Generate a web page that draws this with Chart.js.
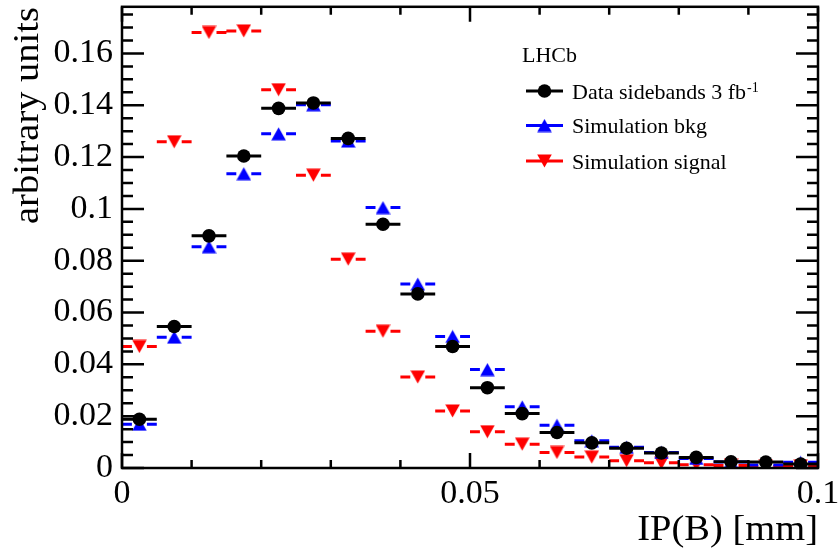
<!DOCTYPE html>
<html lang="en">
<head>
<meta charset="UTF-8">
<title>IP(B)</title>
<script src="https://cdn.jsdelivr.net/npm/chart.js@4.4.0/dist/chart.umd.min.js"></script>
<style>
  html, body { margin: 0; padding: 0; background: #fff; }
</style>
</head>
<body>
<canvas id="c" width="840" height="556"></canvas>
<script>
// IP(B) bins, 0.005 mm wide
const binCenters = [0.0025, 0.0075, 0.0125, 0.0175, 0.0225, 0.0275, 0.0325, 0.0375, 0.0425, 0.0475,
                    0.0525, 0.0575, 0.0625, 0.0675, 0.0725, 0.0775, 0.0825, 0.0875, 0.0925, 0.0975];
const binHalfWidth = 0.0025;

const dataSidebands = [0.0188, 0.0546, 0.0896, 0.1204, 0.1388, 0.1409, 0.1272, 0.0941, 0.0672, 0.0469,
                       0.0310, 0.0210, 0.0137, 0.0097, 0.0076, 0.0058, 0.0041, 0.0024, 0.0023, 0.0015];
const simBkg = [0.0169, 0.0505, 0.0854, 0.1136, 0.1290, 0.1402, 0.1262, 0.1005, 0.0710, 0.0508,
                0.0380, 0.0236, 0.0165, 0.0105, 0.0080, 0.0060, 0.0037, 0.0023, 0.0012, 0.0022];
const simSignal = [0.0469, 0.1259, 0.1681, 0.1687, 0.1460, 0.1130, 0.0806, 0.0528, 0.0351, 0.0220,
                   0.0140, 0.0092, 0.0060, 0.0042, 0.0028, 0.0020, 0.0013, 0.0010, 0.0006, 0.0008];

const xLabelValues = [0, 0.05, 0.1];
const yTitle = 'arbitrary units';
const xTitle = 'IP(B) [mm]';
const legendHeader = 'LHCb';

const FONT = "'Liberation Serif', 'DejaVu Serif', serif";

// ── Marker images (triangles centred on their bounding box) ─────────────────
function triangle(color, up) {
  const c = document.createElement('canvas');
  c.width = 15; c.height = 14;
  const g = c.getContext('2d');
  g.fillStyle = color;
  g.beginPath();
  if (up) { g.moveTo(7.5, 0.5); g.lineTo(14.8, 13.5); g.lineTo(0.2, 13.5); }
  else    { g.moveTo(7.5, 13.5); g.lineTo(14.8, 0.5); g.lineTo(0.2, 0.5); }
  g.closePath();
  g.fill();
  return c;
}
const triUp = triangle('#0000ff', true);
const triDown = triangle('#ff0000', false);

function points(values) {
  return values.map((v, i) => ({ x: binCenters[i], y: v }));
}

const series = [
  { label: 'Data sidebands 3 fb', sup: '-1', data: points(dataSidebands), color: '#000000', style: 'circle', gap: 6 },
  { label: 'Simulation bkg', data: points(simBkg), color: '#0000ff', style: triUp, gap: 7.5 },
  { label: 'Simulation signal', data: points(simSignal), color: '#ff0000', style: triDown, gap: 7.5 },
];

// text stretched along its direction to the wider ROOT Times glyphs
function wideText(ctx, text, x, y, stretch) {
  ctx.save();
  ctx.translate(x, y);
  ctx.scale(stretch, 1);
  ctx.fillText(text, 0, 0);
  ctx.restore();
}

// ── Horizontal bin-width bars, drawn under each dataset's markers ───────────
const binBars = {
  id: 'binBars',
  beforeDatasetDraw(chart, args) {
    const ds = chart.data.datasets[args.index];
    const { ctx, scales: { x, y } } = chart;
    ctx.save();
    ctx.strokeStyle = ds.borderColor;
    ctx.lineWidth = 3;
    ctx.beginPath();
    ds.data.forEach(p => {
      const xl = x.getPixelForValue(p.x - binHalfWidth);
      const xr = x.getPixelForValue(p.x + binHalfWidth);
      const xc = x.getPixelForValue(p.x);
      const py = y.getPixelForValue(p.y);
      ctx.moveTo(xl, py); ctx.lineTo(xc - ds.gap, py);
      ctx.moveTo(xc + ds.gap, py); ctx.lineTo(xr, py);
    });
    ctx.stroke();
    ctx.restore();
  }
};

// ── Frame with inward ticks, axis titles and legend ─────────────────────────
const decorations = {
  id: 'decorations',
  afterDraw(chart) {
    const { ctx, chartArea: a, scales: { x, y } } = chart;
    ctx.save();
    ctx.strokeStyle = '#000';
    ctx.lineWidth = 2.5;
    ctx.strokeRect(a.left, a.top, a.right - a.left, a.bottom - a.top);

    ctx.beginPath();
    for (let i = 0; i <= 10; i++) {
      const px = x.getPixelForValue(i * 0.01);
      const len = i % 5 === 0 ? 15 : 8;
      ctx.moveTo(px, a.bottom); ctx.lineTo(px, a.bottom - len);
      ctx.moveTo(px, a.top); ctx.lineTo(px, a.top + len);
    }
    for (let i = 0; i * 0.005 <= y.max + 1e-9; i++) {
      const py = y.getPixelForValue(i * 0.005);
      const len = i % 4 === 0 ? 22 : 11;
      ctx.moveTo(a.left, py); ctx.lineTo(a.left + len, py);
      ctx.moveTo(a.right, py); ctx.lineTo(a.right - len, py);
    }
    ctx.stroke();

    // axis titles
    ctx.fillStyle = '#000';
    ctx.font = `35px ${FONT}`;
    ctx.textBaseline = 'alphabetic';
    ctx.textAlign = 'right';
    wideText(ctx, xTitle, a.right, 540, 1.1);
    ctx.save();
    ctx.translate(38, 7);
    ctx.rotate(-Math.PI / 2);
    wideText(ctx, yTitle, 0, 0, 1.1);
    ctx.restore();

    // legend
    ctx.textAlign = 'left';
    ctx.font = `22px ${FONT}`;
    ctx.fillText(legendHeader, 522, 62);
    const rowY = [91, 125.5, 161];
    chart.data.datasets.forEach((ds, i) => {
      const cy = rowY[i];
      ctx.strokeStyle = ds.borderColor;
      ctx.lineWidth = 3;
      ctx.beginPath();
      ctx.moveTo(526, cy); ctx.lineTo(563, cy);
      ctx.stroke();
      if (ds.pointStyle === 'circle') {
        ctx.fillStyle = ds.backgroundColor;
        ctx.beginPath();
        ctx.arc(544.5, cy, ds.pointRadius, 0, Math.PI * 2);
        ctx.fill();
      } else {
        ctx.drawImage(ds.pointStyle, 544.5 - ds.pointStyle.width / 2, cy - ds.pointStyle.height / 2);
      }
      ctx.fillStyle = '#000';
      ctx.font = `22px ${FONT}`;
      ctx.fillText(ds.label, 572, cy + 7.5);
      if (ds.sup) {
        const w = ctx.measureText(ds.label).width;
        ctx.font = `14px ${FONT}`;
        ctx.fillText(ds.sup, 572 + w + 1, cy + 1);
      }
    });
    ctx.restore();
  }
};

new Chart(document.getElementById('c'), {
  type: 'scatter',
  data: {
    datasets: series.map(s => ({
      label: s.label,
      sup: s.sup,
      gap: s.gap,
      data: s.data,
      pointStyle: s.style,
      pointRadius: 6.8,
      backgroundColor: s.color,
      borderColor: s.color,
      borderWidth: 0,
      showLine: false,
    }))
  },
  options: {
    responsive: false,
    animation: false,
    events: [],
    layout: { padding: { top: 5, right: 22, left: 0, bottom: 0 } },
    plugins: { legend: { display: false }, tooltip: { enabled: false } },
    scales: {
      x: {
        type: 'linear', min: 0, max: 0.1,
        grid: { display: false, drawTicks: false },
        border: { display: false },
        afterFit(scale) { scale.height = 88; scale.paddingLeft = 0; scale.paddingRight = 0; },
        ticks: {
          stepSize: 0.05, includeBounds: false, padding: 6, maxRotation: 0, autoSkip: false,
          color: '#000', font: { family: FONT, size: 34 },
          callback: v => xLabelValues.some(t => Math.abs(t - v) < 1e-9) ? String(+v.toFixed(3)) : ''
        }
      },
      y: {
        type: 'linear', min: 0, max: 0.178,
        grid: { display: false, drawTicks: false },
        border: { display: false },
        afterFit(scale) { scale.width = 122; scale.paddingTop = 0; scale.paddingBottom = 0; },
        ticks: {
          stepSize: 0.02, includeBounds: false, padding: 9,
          color: '#000', font: { family: FONT, size: 34 },
          callback: v => String(+v.toFixed(3))
        }
      }
    }
  },
  plugins: [binBars, decorations]
});
</script>
</body>
</html>
